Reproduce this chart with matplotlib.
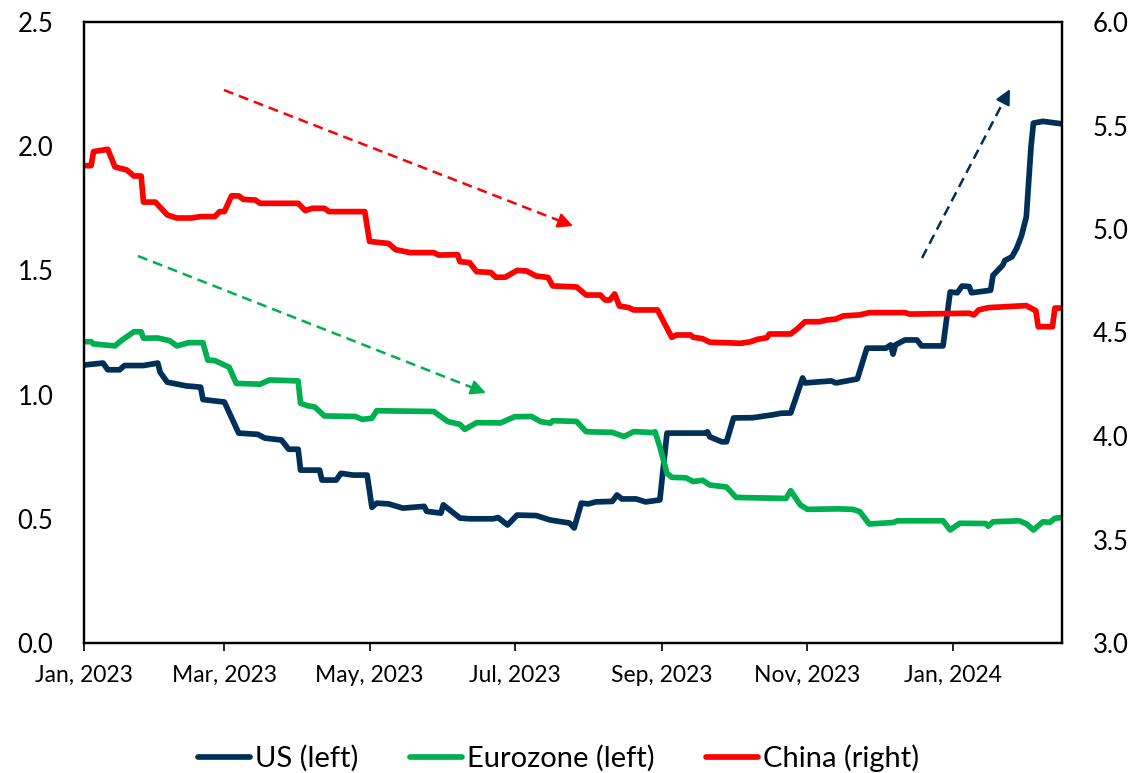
import matplotlib
matplotlib.use("Agg")
import matplotlib.pyplot as plt
import matplotlib.dates as mdates
import pandas as pd
import numpy as np

plt.rcParams['font.family'] = ['Lato', 'DejaVu Sans']

# ---------------- data ----------------
us_dates = ['2023-01-01', '2023-01-09', '2023-01-11', '2023-01-16', '2023-01-18', '2023-01-26',
            '2023-02-01', '2023-02-02', '2023-02-05', '2023-02-13', '2023-02-19', '2023-02-20',
            '2023-03-01', '2023-03-07', '2023-03-15', '2023-03-18', '2023-03-25', '2023-03-28',
            '2023-04-01', '2023-04-02', '2023-04-10', '2023-04-11', '2023-04-17', '2023-04-19',
            '2023-04-24', '2023-04-30', '2023-05-02', '2023-05-04', '2023-05-09', '2023-05-15',
            '2023-05-24', '2023-05-25', '2023-05-31', '2023-06-01', '2023-06-08', '2023-06-12',
            '2023-06-22', '2023-06-24', '2023-06-28', '2023-07-02', '2023-07-10', '2023-07-16',
            '2023-07-24', '2023-07-26', '2023-07-29', '2023-08-01', '2023-08-04', '2023-08-11',
            '2023-08-13', '2023-08-15', '2023-08-21', '2023-08-25', '2023-08-31', '2023-09-03',
            '2023-09-19', '2023-09-20', '2023-09-21', '2023-09-26', '2023-09-28', '2023-10-01',
            '2023-10-09', '2023-10-17', '2023-10-21', '2023-10-25', '2023-10-30', '2023-10-31',
            '2023-11-11', '2023-11-13', '2023-11-22', '2023-11-26', '2023-12-04', '2023-12-06',
            '2023-12-07', '2023-12-08', '2023-12-12', '2023-12-17', '2023-12-19', '2023-12-28',
            '2023-12-31', '2024-01-03', '2024-01-05', '2024-01-08', '2024-01-09', '2024-01-17',
            '2024-01-18', '2024-01-22', '2024-01-23', '2024-01-26', '2024-01-28', '2024-01-30',
            '2024-02-01', '2024-02-03', '2024-02-04', '2024-02-08', '2024-02-16']
us_values = [1.119, 1.127, 1.10, 1.10, 1.117, 1.117,
             1.127, 1.09, 1.05, 1.035, 1.03, 0.98,
             0.97, 0.845, 0.84, 0.825, 0.817, 0.78,
             0.78, 0.696, 0.696, 0.656, 0.656, 0.683,
             0.676, 0.676, 0.546, 0.563, 0.56, 0.543,
             0.55, 0.53, 0.523, 0.556, 0.503, 0.50,
             0.50, 0.505, 0.475, 0.515, 0.513, 0.495,
             0.483, 0.463, 0.563, 0.56, 0.568, 0.57,
             0.596, 0.58, 0.58, 0.568, 0.576, 0.845,
             0.845, 0.85, 0.83, 0.81, 0.81, 0.906,
             0.907, 0.918, 0.925, 0.926, 1.067, 1.047,
             1.055, 1.047, 1.063, 1.187, 1.187, 1.20,
             1.163, 1.20, 1.22, 1.22, 1.196, 1.196,
             1.413, 1.41, 1.437, 1.435, 1.41, 1.42,
             1.48, 1.52, 1.54, 1.555, 1.59, 1.64,
             1.715, 2.0, 2.093, 2.10, 2.09]

ez_dates = ['2023-01-01', '2023-01-04', '2023-01-05', '2023-01-14', '2023-01-17', '2023-01-22',
            '2023-01-25', '2023-01-26', '2023-02-01', '2023-02-06', '2023-02-09', '2023-02-14',
            '2023-02-20', '2023-02-22', '2023-02-25', '2023-03-01', '2023-03-03', '2023-03-06',
            '2023-03-16', '2023-03-20', '2023-04-01', '2023-04-02', '2023-04-05', '2023-04-08',
            '2023-04-12', '2023-04-25', '2023-04-28', '2023-05-02', '2023-05-04', '2023-05-28',
            '2023-06-03', '2023-06-08', '2023-06-10', '2023-06-15', '2023-06-25', '2023-07-01',
            '2023-07-08', '2023-07-12', '2023-07-16', '2023-07-17', '2023-07-27', '2023-07-31',
            '2023-08-02', '2023-08-11', '2023-08-16', '2023-08-20', '2023-08-28', '2023-08-29',
            '2023-08-31', '2023-09-03', '2023-09-05', '2023-09-11', '2023-09-14', '2023-09-18',
            '2023-09-21', '2023-09-28', '2023-10-02', '2023-10-23', '2023-10-25', '2023-10-29',
            '2023-11-01', '2023-11-14', '2023-11-20', '2023-11-23', '2023-11-27', '2023-12-07',
            '2023-12-09', '2023-12-28', '2023-12-31', '2024-01-04', '2024-01-15', '2024-01-16',
            '2024-01-18', '2024-01-29', '2024-02-01', '2024-02-04', '2024-02-08', '2024-02-11',
            '2024-02-13', '2024-02-16']
ez_values = [1.213, 1.213, 1.204, 1.196, 1.22, 1.253,
             1.253, 1.227, 1.228, 1.217, 1.196, 1.209,
             1.209, 1.139, 1.137, 1.119, 1.11, 1.045,
             1.042, 1.059, 1.055, 0.965, 0.955, 0.95,
             0.914, 0.912, 0.90, 0.905, 0.935, 0.932,
             0.891, 0.88, 0.86, 0.887, 0.886, 0.911,
             0.912, 0.891, 0.885, 0.895, 0.892, 0.851,
             0.85, 0.848, 0.831, 0.851, 0.847, 0.85,
             0.79, 0.683, 0.667, 0.665, 0.65, 0.655,
             0.636, 0.628, 0.586, 0.582, 0.613, 0.556,
             0.538, 0.54, 0.538, 0.529, 0.479, 0.485,
             0.492, 0.492, 0.455, 0.482, 0.481, 0.47,
             0.488, 0.492, 0.48, 0.455, 0.488, 0.486,
             0.502, 0.505]

cn_dates = ['2023-01-01', '2023-01-04', '2023-01-05', '2023-01-11', '2023-01-14', '2023-01-19',
            '2023-01-22', '2023-01-25', '2023-01-26', '2023-01-31', '2023-02-05', '2023-02-09',
            '2023-02-15', '2023-02-19', '2023-02-25', '2023-02-27', '2023-03-01', '2023-03-04',
            '2023-03-07', '2023-03-09', '2023-03-14', '2023-03-16', '2023-04-01', '2023-04-04',
            '2023-04-07', '2023-04-12', '2023-04-14', '2023-04-29', '2023-05-01', '2023-05-09',
            '2023-05-12', '2023-05-18', '2023-05-28', '2023-05-30', '2023-06-07', '2023-06-08',
            '2023-06-12', '2023-06-15', '2023-06-21', '2023-06-23', '2023-06-27', '2023-07-02',
            '2023-07-06', '2023-07-10', '2023-07-15', '2023-07-17', '2023-07-27', '2023-07-31',
            '2023-08-06', '2023-08-08', '2023-08-10', '2023-08-12', '2023-08-14', '2023-08-18',
            '2023-08-20', '2023-08-30', '2023-09-05', '2023-09-07', '2023-09-13', '2023-09-14',
            '2023-09-18', '2023-09-21', '2023-10-04', '2023-10-08', '2023-10-11', '2023-10-15',
            '2023-10-16', '2023-10-25', '2023-10-28', '2023-10-31', '2023-11-06', '2023-11-09',
            '2023-11-13', '2023-11-16', '2023-11-23', '2023-11-27', '2023-12-12', '2023-12-14',
            '2024-01-08', '2024-01-10', '2024-01-12', '2024-01-16', '2024-02-01', '2024-02-05',
            '2024-02-06', '2024-02-12', '2024-02-13', '2024-02-16']
cn_values = [5.306, 5.306, 5.374, 5.385, 5.30, 5.285,
             5.256, 5.256, 5.13, 5.13, 5.068, 5.053,
             5.053, 5.06, 5.06, 5.084, 5.084, 5.16,
             5.16, 5.143, 5.14, 5.124, 5.124, 5.089,
             5.10, 5.10, 5.084, 5.084, 4.94, 4.93,
             4.90, 4.886, 4.886, 4.874, 4.876, 4.842,
             4.838, 4.794, 4.79, 4.767, 4.767, 4.80,
             4.797, 4.773, 4.766, 4.725, 4.72, 4.681,
             4.681, 4.657, 4.657, 4.686, 4.628, 4.62,
             4.609, 4.609, 4.477, 4.488, 4.488, 4.477,
             4.47, 4.453, 4.448, 4.455, 4.467, 4.475,
             4.493, 4.493, 4.52, 4.552, 4.552, 4.56,
             4.565, 4.58, 4.585, 4.596, 4.596, 4.589,
             4.593, 4.585, 4.609, 4.62, 4.63, 4.605,
             4.528, 4.528, 4.618, 4.618]

tick_dates = ['2023-01-01', '2023-03-01', '2023-05-01', '2023-07-01',
              '2023-09-01', '2023-11-01', '2024-01-01']
left_ticks = [0.0, 0.5, 1.0, 1.5, 2.0, 2.5]
right_ticks = [3.0, 3.5, 4.0, 4.5, 5.0, 5.5, 6.0]
labels = ['US (left)', 'Eurozone (left)', 'China (right)']

C_US = '#003057'
C_EZ = '#00B050'
C_CN = '#FF0000'

# ---------------- figure ----------------
fig = plt.figure(figsize=(11.4, 7.73), dpi=100)
ax = fig.add_axes([84 / 1140, 1 - 643 / 773, (1062 - 84) / 1140, (643 - 22) / 773])
ax2 = ax.twinx()

lw = 4.1
l1, = ax.plot(pd.to_datetime(us_dates), us_values, color=C_US, lw=lw,
              solid_joinstyle='round', solid_capstyle='round', label=labels[0])
l2, = ax.plot(pd.to_datetime(ez_dates), ez_values, color=C_EZ, lw=lw,
              solid_joinstyle='round', solid_capstyle='round', label=labels[1])
l3, = ax2.plot(pd.to_datetime(cn_dates), cn_values, color=C_CN, lw=lw,
               solid_joinstyle='round', solid_capstyle='round', label=labels[2])

ax.set_xlim(pd.Timestamp('2023-01-01'), pd.Timestamp('2024-02-16'))
ax.set_ylim(left_ticks[0], left_ticks[-1])
ax2.set_ylim(right_ticks[0], right_ticks[-1])
ax.set_yticks(left_ticks)
ax.set_yticklabels([f'{v:.1f}' for v in left_ticks])
ax2.set_yticks(right_ticks)
ax2.set_yticklabels([f'{v:.1f}' for v in right_ticks])

ax.set_xticks(pd.to_datetime(tick_dates))
ax.xaxis.set_major_formatter(mdates.DateFormatter('%b, %Y'))

fs = 18.5
ax.tick_params(axis='y', length=0, pad=22, labelsize=fs)
ax2.tick_params(axis='y', length=0, pad=22, labelsize=fs)
ax.tick_params(axis='x', length=6, width=1.2, direction='out', pad=10, labelsize=16.5)

for a in (ax, ax2):
    for s in a.spines.values():
        s.set_linewidth(1.6)
        s.set_color('black')

# trend arrows (axes fraction coordinates)
def dashed_arrow(start, end, color):
    x0, y0 = start
    x1, y1 = end
    f = 0.96
    xm, ym = x0 + (x1 - x0) * f, y0 + (y1 - y0) * f
    ax.plot([x0, xm], [y0, ym], transform=ax.transAxes, color=color, lw=1.8,
            linestyle=(0, (4, 2.4)), zorder=5)
    ax.annotate('', xy=(x1, y1), xycoords='axes fraction', xytext=(xm, ym),
                textcoords='axes fraction',
                arrowprops=dict(arrowstyle='-|>,head_length=0.9,head_width=0.45',
                                color=color, lw=1.6, shrinkA=0, shrinkB=0), zorder=5)

dashed_arrow((0.1431, 0.8905), (0.500, 0.6715), C_CN)
dashed_arrow((0.0552, 0.6232), (0.411, 0.4026), C_EZ)
dashed_arrow((0.8569, 0.620), (0.9468, 0.892), C_US)

leg = fig.legend(handles=[l1, l2, l3], labels=labels, loc='center',
                 bbox_to_anchor=(0.49, 1 - 758 / 773), ncol=3, frameon=False,
                 fontsize=21, handlelength=1.8, handletextpad=0.17, columnspacing=1.75)

fig.savefig('out.png', dpi=100)
